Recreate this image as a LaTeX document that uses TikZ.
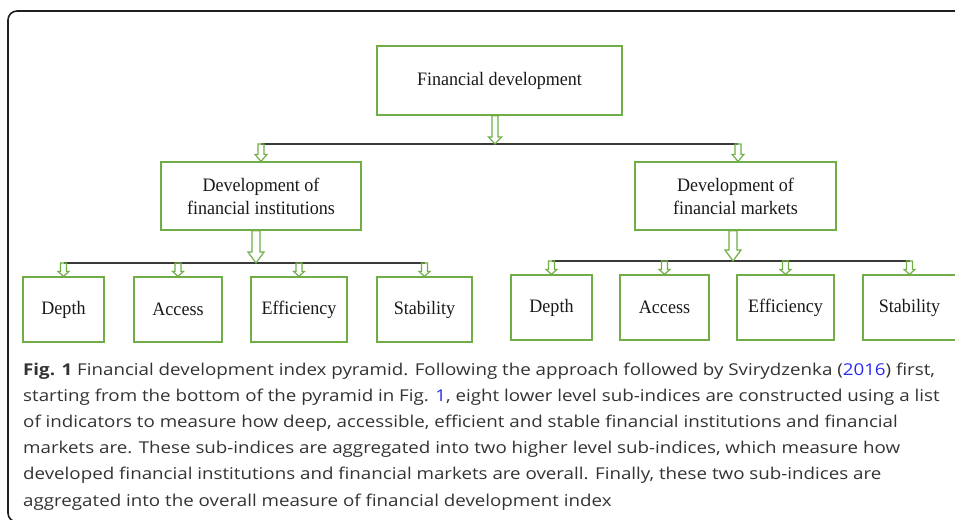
\documentclass[tikz,border=0pt]{standalone}
\usepackage{fontspec}
\setmainfont{Liberation Serif}[FakeStretch=0.95]
\newfontfamily\capfont{Open Sans}[FakeStretch=1.15]
\usetikzlibrary{calc}
\definecolor{grn}{HTML}{70AD47}
\definecolor{barc}{HTML}{3A3A3A}
\definecolor{capc}{HTML}{333333}
\definecolor{linkc}{HTML}{2B2BF0}
\newcommand{\harrow}[5]{%
  \draw[harr] let \p1=#1, \p2=#2 in
  (\x1-#3pt,\y1) -- (\x1+#3pt,\y1) -- (\x1+#3pt,\y2+#5pt) -- (\x1+#4pt,\y2+#5pt)
  -- (\x1,\y2) -- (\x1-#4pt,\y2+#5pt) -- (\x1-#3pt,\y2+#5pt) -- cycle;}
\begin{document}
\begin{tikzpicture}[x=1pt,y=-1pt,
  box/.style={draw=grn, line width=1.3pt, inner sep=0pt, align=center,
    font=\fontsize{19}{23}\selectfont, text=black!90},
  harr/.style={draw=grn, line width=1.2pt, line join=miter},
  bar/.style={draw=barc, line width=1.3pt},
  frame/.style={draw=black!88, line width=1.6pt, rounded corners=9pt},
  captext/.style={anchor=base west, inner sep=0pt, text=capc,
    font=\capfont\fontsize{16.3}{20}\selectfont}]
\useasboundingbox (0,0) rectangle (955,519);
\clip (0,0) rectangle (955,519);
\draw[frame] (8,11) rectangle (1000,522);

% boxes
\node[box, minimum width=245pt, minimum height=69pt] (fd) at (499.5,80.5) {Financial development};
\node[box, minimum width=200pt, minimum height=68pt] (inst) at (261,196) {Development of\\financial institutions};
\node[box, minimum width=201pt, minimum height=68pt] (mkts) at (735.5,196) {Development of\\financial markets};

\node[box, minimum width=81pt, minimum height=65pt] (d1) at (63.5,309.5) {Depth};
\node[box, minimum width=88pt, minimum height=65pt] (a1) at (178,309.5) {Access};
\node[box, minimum width=96pt, minimum height=65pt] (e1) at (299,309.5) {Efficiency};
\node[box, minimum width=95pt, minimum height=65pt] (s1) at (424.5,309.5) {Stability};

\node[box, minimum width=81pt, minimum height=65pt] (d2) at (551.5,307.5) {Depth};
\node[box, minimum width=89pt, minimum height=65pt] (a2) at (664.5,307.5) {Access};
\node[box, minimum width=97pt, minimum height=65pt] (e2) at (785.5,307.5) {Efficiency};
\node[box, minimum width=93pt, minimum height=65pt] (s2) at (909.5,307.5) {Stability};

% bar levels
\coordinate (b0) at (0,144);
\coordinate (b1) at (0,263);
\coordinate (b2) at (0,261);

\draw[bar] (inst.north |- b0) -- ([xshift=2.5pt]mkts.north |- b0);
\draw[bar] (d1.north |- b1) -- (s1.north |- b1);
\draw[bar] (d2.north |- b2) -- (s2.north |- b2);

% hollow arrows
\harrow{([xshift=-4.5pt]fd.south)}{(b0)}{3}{6.5}{7}
\harrow{(inst.north |- b0)}{(inst.north)}{3}{6}{7}
\harrow{([xshift=2.5pt]mkts.north |- b0)}{(mkts.north)}{3}{6}{7}
\harrow{([xshift=-5pt]inst.south)}{(b1)}{4}{8}{11}
\harrow{([xshift=-2.5pt]mkts.south)}{(b2)}{4}{8}{11}
\foreach \bx in {d1,a1,e1,s1}{\harrow{(\bx.north |- b1)}{(\bx.north)}{3}{5.5}{5}}
\foreach \bx in {d2,a2,e2,s2}{\harrow{(\bx.north |- b2)}{(\bx.north)}{3}{5.5}{5}}

% caption
\node[captext] (c1) at (23,375) {\textbf{Fig. 1} Financial development index pyramid. Following the approach followed by Svirydzenka (\textcolor{linkc}{2016}) first,};
\node[captext] (c2) at (23,401.2) {starting from the bottom of the pyramid in Fig. \textcolor{linkc}{1}, eight lower level sub-indices are constructed using a list};
\node[captext] (c3) at (23,427.4) {of indicators to measure how deep, accessible, efficient and stable financial institutions and financial};
\node[captext] (c4) at (23,453.6) {markets are. These sub-indices are aggregated into two higher level sub-indices, which measure how};
\node[captext] (c5) at (23,479.8) {developed financial institutions and financial markets are overall. Finally, these two sub-indices are};
\node[captext] (c6) at (23,506) {aggregated into the overall measure of financial development index};
\end{tikzpicture}
\end{document}
